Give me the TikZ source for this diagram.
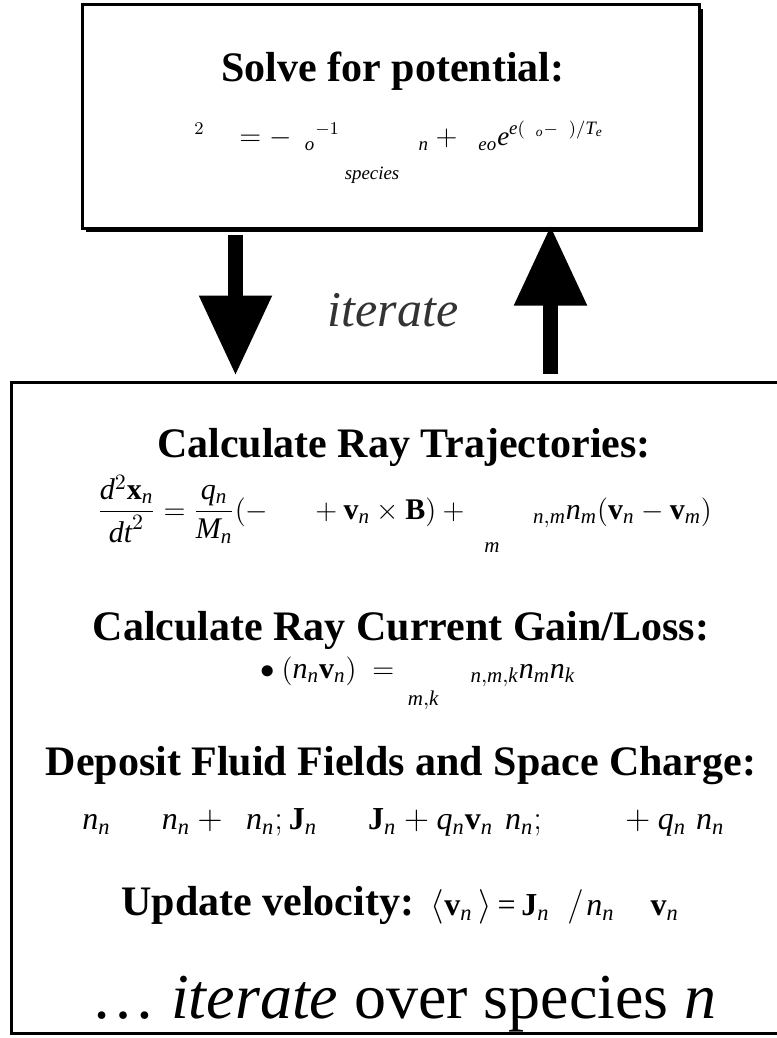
\documentclass[tikz,border=0pt]{standalone}
\usepackage{amsmath}
\usepackage{fontspec}
\setmainfont{Liberation Serif}
\usetikzlibrary{arrows.meta, positioning, shadows}
\newcommand{\vi}[1]{\mathit{#1}}
\newcommand{\vb}[1]{\mathbf{#1}}
\newcommand{\gap}{\mathrel{\hspace{16pt}}}

\begin{document}
\begin{tikzpicture}[x=0.5pt, y=-0.5pt,
    box/.style={draw, line width=1.5pt, fill=white, inner sep=0pt},
    heading/.style={font=\fontsize{21}{25}\selectfont\bfseries, inner sep=0pt, anchor=base},
    eqn/.style={font=\fontsize{15}{18}\selectfont, inner sep=0pt, anchor=base west},
    bigarrow/.style={line width=7.5pt, -{Triangle[length=40pt, width=34.5pt]}}]
    \useasboundingbox (0,0) rectangle (776,1038);

    % the two blocks
    \node[box, minimum width=308.5pt, minimum height=111.5pt,
          drop shadow={fill=black, opacity=1, shadow xshift=2pt, shadow yshift=-2pt}] (potbox) at (390.5,116.5) {};
    \node[box, minimum width=384.5pt, minimum height=325.5pt] (raybox) at (395.5,707.5) {};

    % field solve
    \node[heading] (solve) at (393,82) {Solve for potential:};
    \node[eqn, font=\fontsize{13.5}{16}\selectfont] (poisson) at (170,146)
        {$\displaystyle\phantom{\nabla}^{2}\phantom{\phi}\hspace{5pt} = -\phantom{\varepsilon}_{\vi{o}}{}^{-1}\mathop{\phantom{\sum}}\limits_{\vi{species}}\phantom{\rho}_{\vi{n}} + \phantom{\rho}_{\vi{eo}}\vi{e}^{\vi{e}(\phantom{\phi}_{\vi{o}}-\phantom{\phi})/\vi{T}_{\vi{e}}}$};

    % loop between the blocks
    \coordinate (downcol) at ([xshift=-77.5pt]potbox.south);
    \coordinate (upcol) at ([xshift=80pt]potbox.south);
    \draw[bigarrow, shorten <=2.5pt, shorten >=2.5pt] (downcol) -- (downcol |- raybox.north);
    \draw[bigarrow, shorten <=3.5pt, shorten >=-2pt] (upcol |- raybox.north) -- (upcol);
    \node[font=\fontsize{25}{30}\selectfont\itshape, text=black!80, anchor=base, inner sep=0pt] (iter) at (393,326) {iterate};

    % particle push
    \node[heading] (traj) at (404,457) {Calculate Ray Trajectories:};
    \node[eqn] (motion) at (97,519)
        {$\displaystyle\frac{\vi{d}^{2}\vb{x}_{\vi{n}}}{\vi{dt}^{2}} = \frac{\vi{q}_{\vi{n}}}{\vi{M}_{\vi{n}}}(-\phantom{\nabla\phi}+\vb{v}_{\vi{n}}\times\vb{B}) + \mathop{\phantom{\sum}}\limits_{\vi{m}}\phantom{\nu}_{\vi{n},\vi{m}}\vi{n}_{\vi{m}}(\vb{v}_{\vi{n}}-\vb{v}_{\vi{m}})$};
    \node[heading] (gain) at (401,640) {Calculate Ray Current Gain/Loss:};
    \node[eqn] (contin) at (230,678)
        {$\displaystyle\phantom{\nabla}\bullet(\vi{n}_{\vi{n}}\vb{v}_{\vi{n}})\; = \mathop{\hphantom{\sum}\rule[-4pt]{0pt}{4pt}}\limits_{\vi{m},\vi{k}}\hspace{3pt}\phantom{\nu}_{\vi{n},\vi{m},\vi{k}}\vi{n}_{\vi{m}}\vi{n}_{\vi{k}}$};
    \node[heading] (deposit) at (401,775) {Deposit Fluid Fields and Space Charge:};
    \node[eqn, font=\fontsize{16}{19}\selectfont] (accum) at (82,829)
        {$\vi{n}_{\vi{n}}\gap\vi{n}_{\vi{n}}+\hspace{8pt}\vi{n}_{\vi{n}};\vb{J}_{\vi{n}}\gap\vb{J}_{\vi{n}}+\vi{q}_{\vi{n}}\vb{v}_{\vi{n}}\hspace{6pt}\vi{n}_{\vi{n}};\hspace{35pt}{}+\vi{q}_{\vi{n}}\hspace{5pt}\vi{n}_{\vi{n}}$};
    \node[heading, anchor=base west] (update) at (121,915) {Update velocity:};
    \node[eqn, font=\fontsize{16}{19}\selectfont, right=8pt of update.base east, anchor=base west] (veloc)
        {$\langle\vb{v}_{\vi{n}}\,\rangle\,\text{=}\,\vb{J}_{\vi{n}}\hspace{9pt}/\hspace{1.5pt}\vi{n}_{\vi{n}}\hspace{18pt}\vb{v}_{\vi{n}}$};
    \node[font=\fontsize{32}{38}\selectfont, anchor=base, inner sep=0pt] (over) at (404,1018) {\dots\ \textit{iterate} over species \textit{n}};
\end{tikzpicture}
\end{document}
